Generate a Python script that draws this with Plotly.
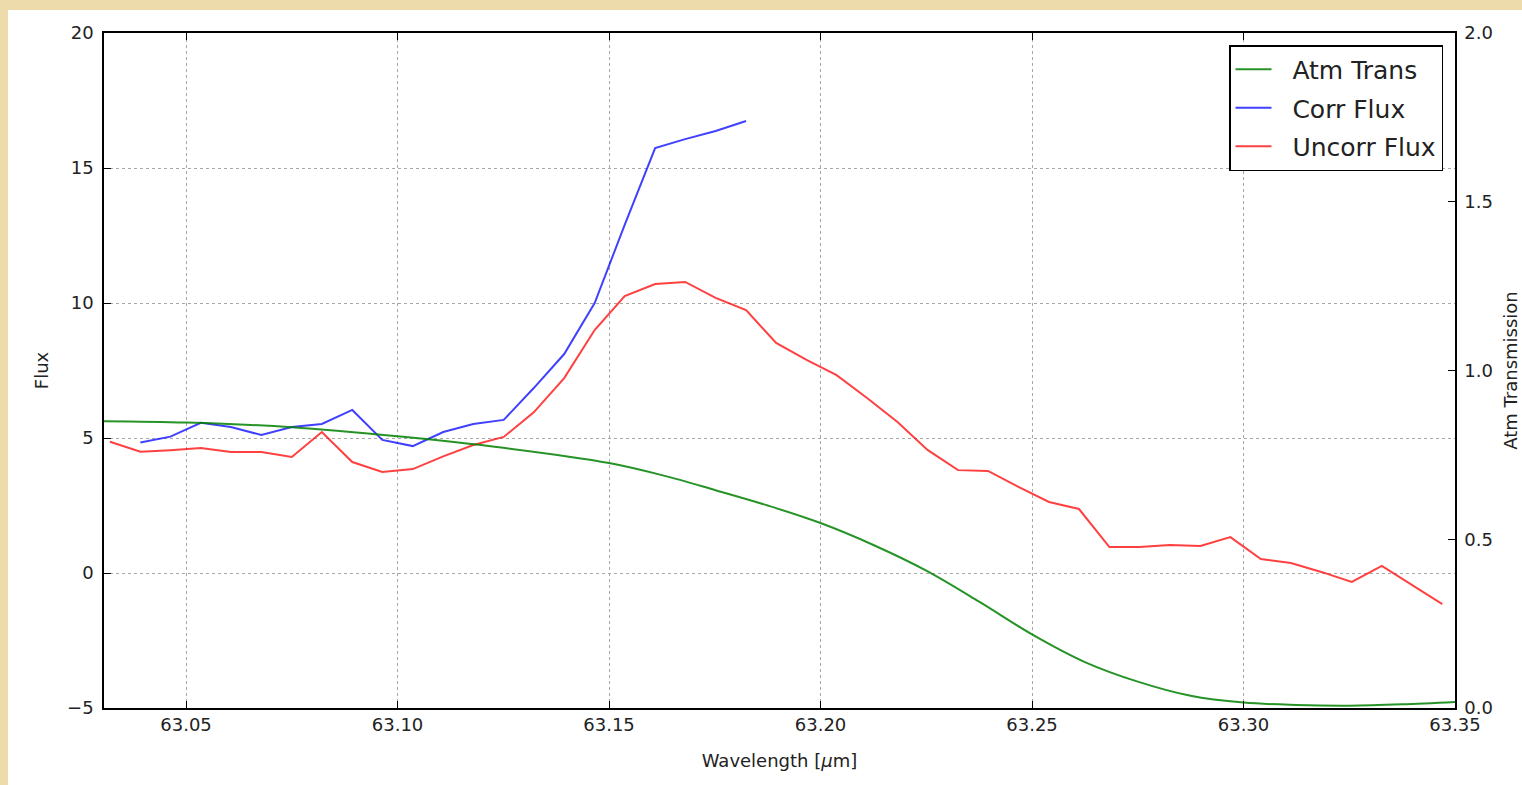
import plotly.graph_objects as go

# ---- data ----
wave_uncorr = [63.0320, 63.0392, 63.0463, 63.0535, 63.0606, 63.0678, 63.0750, 63.0821,
               63.0893, 63.0964, 63.1036, 63.1108, 63.1179, 63.1251, 63.1322, 63.1394,
               63.1466, 63.1537, 63.1609, 63.1680, 63.1752, 63.1824, 63.1895, 63.1967,
               63.2038, 63.2110, 63.2182, 63.2253, 63.2325, 63.2396, 63.2468, 63.2540,
               63.2611, 63.2683, 63.2754, 63.2826, 63.2898, 63.2969, 63.3041, 63.3112,
               63.3184, 63.3256, 63.3327, 63.3399, 63.3470]
flux_uncorr = [4.86, 4.49, 4.55, 4.63, 4.48, 4.48, 4.30, 5.22, 4.11, 3.74, 3.85, 4.32,
               4.74, 5.04, 5.95, 7.22, 9.00, 10.26, 10.70, 10.78, 10.19, 9.74, 8.52, 7.89,
               7.33, 6.48, 5.59, 4.56, 3.81, 3.78, 3.19, 2.63, 2.37, 0.96, 0.96, 1.04,
               1.00, 1.33, 0.52, 0.37, 0.04, -0.33, 0.26, -0.44, -1.15]

wave_corr = [63.0392, 63.0463, 63.0535, 63.0606, 63.0678, 63.0750, 63.0821, 63.0893,
             63.0964, 63.1036, 63.1108, 63.1179, 63.1251, 63.1322, 63.1394, 63.1466,
             63.1537, 63.1609, 63.1680, 63.1752, 63.1824]
flux_corr = [4.83, 5.05, 5.56, 5.41, 5.11, 5.41, 5.52, 6.04, 4.93, 4.70, 5.22, 5.52,
             5.67, 6.85, 8.11, 10.00, 12.89, 15.74, 16.07, 16.37, 16.74]

wave_atm = [63.0306, 63.05, 63.075, 63.10, 63.125, 63.15, 63.1625, 63.175, 63.1875,
            63.20, 63.2125, 63.225, 63.2375, 63.25, 63.2625, 63.275, 63.2875, 63.30,
            63.3125, 63.325, 63.3375, 63.35]
trans_atm = [0.850, 0.846, 0.832, 0.805, 0.771, 0.726, 0.690, 0.646, 0.600,
             0.548, 0.483, 0.407, 0.315, 0.218, 0.136, 0.078, 0.036, 0.016,
             0.009, 0.007, 0.011, 0.018]

x_ticks = [63.05, 63.10, 63.15, 63.20, 63.25, 63.30, 63.35]

FONT = "DejaVu Sans"
PARCH = "#eedbab"
TXT = "#222222"
W, H = 1522, 785
L, R, T, B = 104, 1455, 33, 708
GAP = "\u00a0\u00a0"  # spacing between legend sample line and label

fig = go.Figure()
fig.add_trace(go.Scatter(x=wave_atm, y=trans_atm, name=GAP + "Atm Trans", mode="lines",
                         line=dict(color="rgba(0,128,0,0.85)", width=2, shape="spline",
                                   smoothing=1.0),
                         yaxis="y2", legendgroup="a"))
fig.add_trace(go.Scatter(x=wave_corr, y=flux_corr, name=GAP + "Corr Flux", mode="lines",
                         line=dict(color="rgba(0,0,255,0.75)", width=2), legendgroup="b"))
fig.add_trace(go.Scatter(x=wave_uncorr, y=flux_uncorr, name=GAP + "Uncorr Flux", mode="lines",
                         line=dict(color="rgba(255,0,0,0.75)", width=2), legendgroup="c"))

pw, ph = R - L, B - T
def px_x(p):
    return (p - L) / pw
def px_y(p):
    return (B - p) / ph

shapes = [
    dict(type="rect", xref="paper", yref="paper", x0=px_x(0), x1=px_x(8), y0=px_y(H), y1=px_y(0),
         fillcolor=PARCH, line=dict(width=0), layer="above"),
    dict(type="rect", xref="paper", yref="paper", x0=px_x(0), x1=px_x(W), y0=px_y(10), y1=px_y(0),
         fillcolor=PARCH, line=dict(width=0), layer="above"),
]

axis_common = dict(
    showline=True, linecolor="black", linewidth=1.5,
    ticks="inside", ticklen=7, tickwidth=1, tickcolor="black",
    tickfont=dict(family=FONT, size=18, color=TXT),
    zeroline=False, automargin=False,
)

fig.update_layout(
    width=W, height=H,
    margin=dict(l=L, r=W - R, t=T, b=H - B, pad=0),
    paper_bgcolor="white", plot_bgcolor="white",
    font=dict(family=FONT, size=18, color=TXT),
    shapes=shapes,
    xaxis=dict(
        **axis_common,
        range=[63.0306, 63.35], tickvals=x_ticks, tickformat=".2f", mirror="ticks",
        showgrid=True, gridcolor="#a8a8a8", gridwidth=1, griddash="3px,3px",
        title=dict(text="Wavelength [<i>μ</i>m]", font=dict(family=FONT, size=18, color=TXT),
                   standoff=20),
    ),
    yaxis=dict(
        **axis_common,
        range=[-5, 20], tickvals=[-5, 0, 5, 10, 15, 20], mirror=True,
        showgrid=True, gridcolor="#a8a8a8", gridwidth=1, griddash="3px,3px",
        ticklabelstandoff=5,
        title=dict(text="Flux", font=dict(family=FONT, size=18, color=TXT), standoff=14),
    ),
    yaxis2=dict(
        **axis_common,
        overlaying="y", side="right", range=[0, 2], tickvals=[0, 0.5, 1.0, 1.5, 2.0],
        tickformat=".1f", showgrid=False, ticklabelstandoff=4,
        title=dict(text="Atm Transmission", font=dict(family=FONT, size=18, color=TXT),
                   standoff=12),
    ),
    legend=dict(
        x=px_x(1443), y=px_y(45), xanchor="right", yanchor="top",
        bgcolor="white", bordercolor="black", borderwidth=1.5,
        font=dict(family=FONT, size=25, color=TXT),
        traceorder="grouped", tracegroupgap=3, itemwidth=36,
    ),
    showlegend=True,
)

fig.write_html("out.html",
               config={"displayModeBar": False},
               post_script="document.body.style.margin='0';"
                           "document.body.style.background='%s';" % PARCH)
